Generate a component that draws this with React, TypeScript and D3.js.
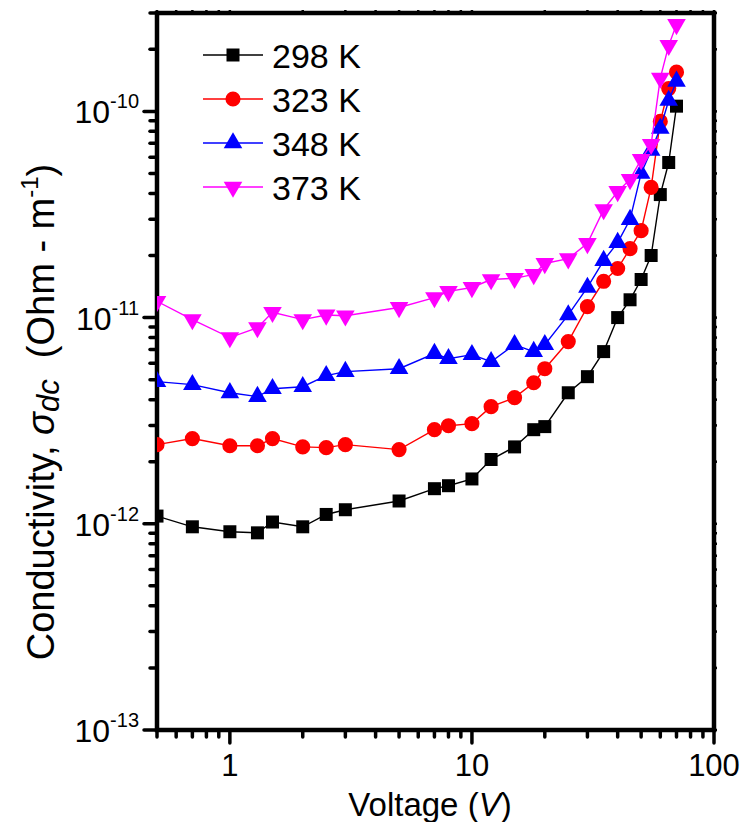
import * as d3 from 'd3';
import React, { useEffect, useRef } from 'react';

// voltage steps (V)
const voltage = [0.5, 0.7, 1, 1.3, 1.5, 2, 2.5, 3, 5, 7, 8, 10, 12, 15, 18, 20, 25, 30, 35, 40, 45, 50, 55, 60, 65, 70];

// dc conductivity per temperature (Ohm-m)^-1
const s298 = [1.09e-12, 9.67e-13, 9.15e-13, 9.04e-13, 1.02e-12, 9.67e-13, 1.11e-12, 1.17e-12, 1.29e-12, 1.48e-12, 1.53e-12, 1.65e-12, 2.05e-12, 2.36e-12, 2.86e-12, 2.96e-12, 4.32e-12, 5.17e-12, 6.84e-12, 1.0e-11, 1.22e-11, 1.53e-11, 2.0e-11, 3.95e-11, 5.65e-11, 1.06e-10];
const s323 = [2.42e-12, 2.59e-12, 2.39e-12, 2.39e-12, 2.59e-12, 2.36e-12, 2.34e-12, 2.42e-12, 2.29e-12, 2.86e-12, 2.99e-12, 3.06e-12, 3.7e-12, 4.09e-12, 4.83e-12, 5.65e-12, 7.65e-12, 1.13e-11, 1.5e-11, 1.73e-11, 2.16e-11, 2.64e-11, 4.28e-11, 8.94e-11, 1.29e-10, 1.55e-10];
const s348 = [4.89e-12, 4.73e-12, 4.32e-12, 4.14e-12, 4.52e-12, 4.62e-12, 5.23e-12, 5.47e-12, 5.65e-12, 6.69e-12, 6.32e-12, 6.61e-12, 6.11e-12, 7.39e-12, 6.84e-12, 7.39e-12, 1.03e-11, 1.4e-11, 1.89e-11, 2.31e-11, 2.99e-11, 5.0e-11, 6.47e-11, 8.27e-11, 1.13e-10, 1.4e-10];
const s373 = [1.2e-11, 9.78e-12, 8.0e-12, 8.94e-12, 1.06e-11, 9.78e-12, 1.03e-11, 1.02e-11, 1.12e-11, 1.25e-11, 1.34e-11, 1.4e-11, 1.53e-11, 1.55e-11, 1.62e-11, 1.83e-11, 1.93e-11, 2.29e-11, 3.34e-11, 4.09e-11, 4.68e-11, 5.85e-11, 6.92e-11, 1.45e-10, 2.09e-10, 2.64e-10];

const labels = ['298 K', '323 K', '348 K', '373 K'];
const colors = ['#000000', '#ff0000', '#0000ff', '#ff00ff'];

const xTicks = [1, 10, 100];
const yTicks = [1e-13, 1e-12, 1e-11, 1e-10];
const yTickExp = ['-13', '-12', '-11', '-10'];

const FONT = '"Liberation Sans", Arial, Helvetica, sans-serif';

export default function App() {
  const svgRef = useRef(null);

  useEffect(() => {
    const svg = d3.select(svgRef.current);
    svg.selectAll('*').remove();

    const margin = { top: 13, right: 31, bottom: 92, left: 157 };
    const width = 745;
    const height = 822;
    const plotW = width - margin.left - margin.right;
    const plotH = height - margin.top - margin.bottom;

    const x = d3.scaleLog().domain([0.5, 100]).range([margin.left, margin.left + plotW]);
    const y = d3.scaleLog().domain([1e-13, 3e-10]).range([margin.top + plotH, margin.top]);

    const xMinor = [];
    [0.1, 1, 10].forEach((d) => {
      for (let k = 2; k <= 9; k++) {
        const v = d * k;
        if (v >= 0.5 && v < 100) xMinor.push(v);
      }
    });
    const yMinor = [];
    [1e-13, 1e-12, 1e-11, 1e-10].forEach((d) => {
      for (let k = 2; k <= 9; k++) {
        const v = d * k;
        if (v <= 3e-10) yMinor.push(v);
      }
    });

    const bottom = margin.top + plotH;
    const right = margin.left + plotW;

    const tickStyle = (sel) =>
      sel.attr('stroke', '#000').attr('stroke-width', 3.5).attr('stroke-linecap', 'round');

    // ticks
    const tg = svg.append('g');
    tg.selectAll('.xmaj').data(xTicks).enter().append('line')
      .attr('x1', (d) => x(d)).attr('x2', (d) => x(d))
      .attr('y1', bottom).attr('y2', bottom + 13).call(tickStyle);
    tg.selectAll('.xmin').data(xMinor).enter().append('line')
      .attr('x1', (d) => x(d)).attr('x2', (d) => x(d))
      .attr('y1', bottom).attr('y2', bottom + 7).call(tickStyle);
    tg.selectAll('.xtop').data(xMinor.concat(xTicks)).enter().append('line')
      .attr('x1', (d) => x(d)).attr('x2', (d) => x(d))
      .attr('y1', margin.top).attr('y2', margin.top - 3)
      .attr('stroke', '#000').attr('stroke-width', 2.5);
    tg.selectAll('.ymaj').data(yTicks).enter().append('line')
      .attr('x1', margin.left).attr('x2', margin.left - 13)
      .attr('y1', (d) => y(d)).attr('y2', (d) => y(d)).call(tickStyle);
    tg.selectAll('.ymin').data(yMinor).enter().append('line')
      .attr('x1', margin.left).attr('x2', margin.left - 7)
      .attr('y1', (d) => y(d)).attr('y2', (d) => y(d)).call(tickStyle);
    tg.selectAll('.yright').data(yMinor.concat(yTicks)).enter().append('line')
      .attr('x1', right).attr('x2', right + 3)
      .attr('y1', (d) => y(d)).attr('y2', (d) => y(d))
      .attr('stroke', '#000').attr('stroke-width', 2.5);

    // frame
    svg.append('rect')
      .attr('x', margin.left).attr('y', margin.top)
      .attr('width', plotW).attr('height', plotH)
      .attr('fill', 'none').attr('stroke', '#000').attr('stroke-width', 4.5);

    // tick labels
    svg.append('g').selectAll('text').data(xTicks).enter().append('text')
      .attr('x', (d) => x(d)).attr('y', bottom + 46)
      .attr('text-anchor', 'middle')
      .attr('font-family', FONT).attr('font-size', 31)
      .text((d) => d);

    const yl = svg.append('g').selectAll('text').data(yTicks).enter().append('text')
      .attr('x', 139).attr('y', (d) => y(d) + 12)
      .attr('text-anchor', 'end')
      .attr('font-family', FONT).attr('font-size', 32);
    yl.append('tspan').text('10');
    yl.append('tspan').attr('dy', -15).attr('font-size', 20).text((d, i) => yTickExp[i]);

    // axis titles
    const xt = svg.append('text')
      .attr('x', 430).attr('y', 816)
      .attr('text-anchor', 'middle')
      .attr('font-family', FONT).attr('font-size', 33);
    xt.append('tspan').text('Voltage (');
    xt.append('tspan').attr('font-style', 'italic').text('V');
    xt.append('tspan').text(')');

    const yt = svg.append('text')
      .attr('transform', 'translate(54,412) rotate(-90)')
      .attr('text-anchor', 'middle')
      .attr('font-family', FONT).attr('font-size', 38);
    yt.append('tspan').text('Conductivity, ');
    yt.append('tspan').attr('font-style', 'italic').text('σ');
    yt.append('tspan').attr('font-style', 'italic').attr('font-size', 31).attr('dy', 5).text('dc');
    yt.append('tspan').attr('dy', -5).text('\u00a0 (Ohm - m');
    yt.append('tspan').attr('font-size', 24).attr('dy', -16).text('-1');
    yt.append('tspan').attr('dy', 16).text(')');

    // data
    const series = [s298, s323, s348, s373];
    const symbols = [
      d3.symbol().type(d3.symbolSquare).size(169),
      d3.symbol().type(d3.symbolCircle).size(180),
      d3.symbol().type(d3.symbolTriangle).size(150),
      d3.symbol().type(d3.symbolTriangle).size(150),
    ];
    const rot = [0, 0, 0, 180];

    svg.append('clipPath').attr('id', 'plotclip').append('rect')
      .attr('x', margin.left).attr('y', margin.top - 2)
      .attr('width', plotW).attr('height', plotH + 2);

    const dg = svg.append('g').attr('clip-path', 'url(#plotclip)');
    const line = d3.line().x((d) => x(d[0])).y((d) => y(d[1]));

    series.forEach((vals, i) => {
      const pts = voltage.map((v, j) => [v, vals[j]]);
      dg.append('path').datum(pts)
        .attr('d', line).attr('fill', 'none')
        .attr('stroke', colors[i]).attr('stroke-width', 1.4);
      dg.selectAll('.m' + i).data(pts).enter().append('path')
        .attr('d', symbols[i])
        .attr('transform', (d) => `translate(${x(d[0])},${y(d[1])}) rotate(${rot[i]})`)
        .attr('fill', colors[i]);
    });

    // legend
    const lg = svg.append('g');
    labels.forEach((lab, i) => {
      const ly = 55 + i * 44;
      lg.append('line')
        .attr('x1', 203).attr('x2', 263).attr('y1', ly).attr('y2', ly)
        .attr('stroke', colors[i]).attr('stroke-width', 1.4);
      lg.append('path')
        .attr('d', symbols[i])
        .attr('transform', `translate(233,${ly}) rotate(${rot[i]})`)
        .attr('fill', colors[i]);
      lg.append('text')
        .attr('x', 272).attr('y', ly + 13)
        .attr('font-family', FONT).attr('font-size', 34)
        .text(lab);
    });
  }, []);

  return (
    <svg
      ref={svgRef}
      width={745}
      height={822}
      style={{ position: 'absolute', left: 0, top: 0, background: '#fff' }}
    />
  );
}
